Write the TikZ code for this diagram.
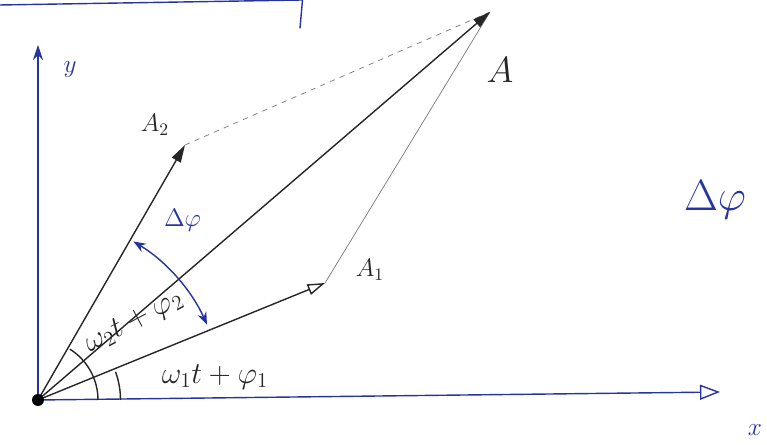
\documentclass[tikz,border=0pt]{standalone}
\usepackage{tikz}
\usetikzlibrary{arrows.meta,positioning,calc}
\usepackage{xcolor}
\definecolor{inkblue}{RGB}{38,52,160}
\definecolor{inkgray}{RGB}{120,120,120}
\tikzset{
    axis/.style={
        draw=inkblue,thick,line cap=round
    },
    phasor/.style={
        -{Triangle[length=3.5mm,width=2mm]},thick,draw=black!85
    },
    helper/.style={
        draw=inkgray,thin
    },
    lbl/.style={
        font=\Large,text=black!85
    },
    bluelbl/.style={
        font=\Large,text=inkblue
    }
}

\begin{document}
\begin{tikzpicture}

\useasboundingbox (0,0) rectangle (15.34,8.9);

\coordinate (o) at (0.76,0.90);
\coordinate (ytop) at (0.76,8.0);
\coordinate (xend) at (14.4,1.06);
\coordinate (a) at (9.8,8.66);
\coordinate (a2) at (3.7,6.0);
\coordinate (a1) at (6.5,3.24);

\coordinate (edgeL) at (0,8.8);
\coordinate (edgeR) at (6.05,8.9);
\coordinate (tickB) at (6.0,8.34);
\draw[axis] (edgeL)--(edgeR);
\draw[axis] (edgeR)--(tickB);

\draw[axis,-{Stealth[length=3mm,width=2mm]}] (o)--(ytop);
\draw[axis,-{Triangle[open,length=4mm,width=3mm]}] (o)--(xend);
\node[bluelbl] (ylbl) at (1.4,7.5) {$y$};
\node[bluelbl] (xlbl) at (15.1,0.3) {$x$};

\draw[helper,dashed] (a2)--(a);
\draw[helper] (a1)--(a);

\draw[phasor] (o)--(a);
\draw[phasor] (o)--(a2);
\draw[thick,draw=black!85,-{Triangle[open,length=3.5mm,width=2.2mm]}] (o)--(a1);
\fill[black] (o) circle (0.12);

\node[lbl,font=\huge] (alab) at (10.0,7.5) {$A$};
\node[lbl] (a2lab) at (3.1,6.4) {$A_2$};
\node[lbl] (a1lab) at (7.4,3.5) {$A_1$};

\draw[thick,draw=black!85] ($(o)+(0:1.2)$) arc[start angle=0,end angle=58,radius=1.2];
\draw[thick,draw=black!85] ($(o)+(0:1.65)$) arc[start angle=0,end angle=20,radius=1.65];
\node[lbl,font=\LARGE,rotate=28] (w2lab) at (2.68,2.46) {$\omega_2 t+\varphi_2$};
\node[lbl,font=\LARGE] (w1lab) at (4.3,1.36) {$\omega_1 t+\varphi_1$};

\draw[thick,draw=inkblue,{Stealth[length=2.5mm]}-{Stealth[length=2.5mm]}]
($(o)+(59:3.7)$) arc[start angle=59,end angle=24,radius=3.7];
\node[bluelbl] (dphi) at (3.65,4.5) {$\Delta\varphi$};

\node[bluelbl,font=\Huge] (dphibig) at (14.3,4.9) {$\Delta\varphi$};

\end{tikzpicture}
\end{document}
